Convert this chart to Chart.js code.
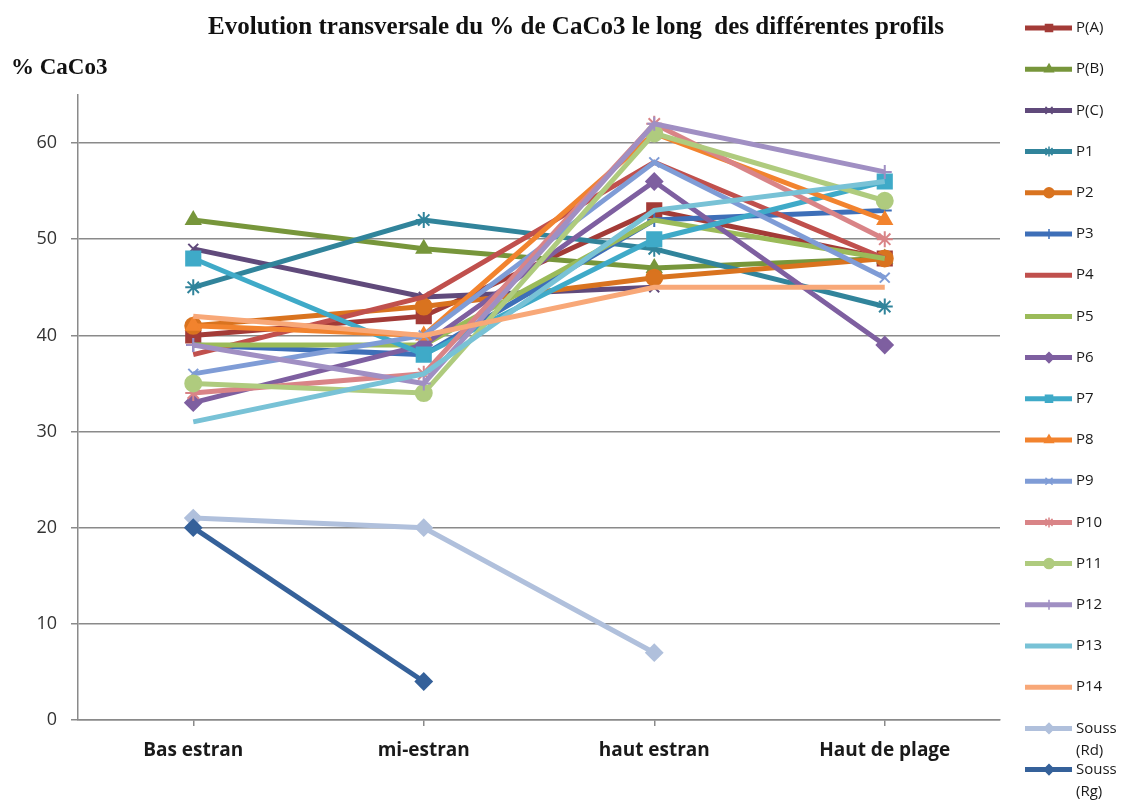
<!DOCTYPE html>
<html>
<head>
<meta charset="utf-8">
<title>Evolution transversale du % de CaCo3</title>
<script src="https://cdn.jsdelivr.net/npm/chart.js"></script>
<style>
    html, body { margin: 0; padding: 0; background: #fff; }
    #wrap { width: 1125px; height: 801px; position: relative; }
</style>
</head>
<body>
<div id="wrap"><canvas id="caco3Chart" width="1125" height="801"></canvas></div>
<script>
// Data
const categories = ['Bas estran', 'mi-estran', 'haut estran', 'Haut de plage'];
const yTicks = [0, 10, 20, 30, 40, 50, 60];

const pA = [40, 42, 53, 48];
const pB = [52, 49, 47, 48];
const pC = [49, 44, 45, null];
const p1 = [45, 52, 49, 43];
const p2 = [41, 43, 46, 48];
const p3 = [39, 38, 52, 53];
const p4 = [38, 44, 58, 48];
const p5 = [39, 39, 52, 48];
const p6 = [33, 39, 56, 39];
const p7 = [48, 38, 50, 56];
const p8 = [41, 40, 61, 52];
const p9 = [36, 40, 58, 46];
const p10 = [34, 36, 62, 50];
const p11 = [35, 34, 61, 54];
const p12 = [39, 35, 62, 57];
const p13 = [31, 36, 53, 56];
const p14 = [42, 40, 45, 45];
const soussRd = [21, 20, 7, null];
const soussRg = [20, 4, null, null];

const seriesNames = ['P(A)', 'P(B)', 'P(C)', 'P1', 'P2', 'P3', 'P4', 'P5', 'P6', 'P7',
    'P8', 'P9', 'P10', 'P11', 'P12', 'P13', 'P14', 'Souss (Rd)', 'Souss (Rg)'];
const seriesValues = [pA, pB, pC, p1, p2, p3, p4, p5, p6, p7,
    p8, p9, p10, p11, p12, p13, p14, soussRd, soussRg];

// Styling
const seriesColors = ['#A33B37', '#77963B', '#604A7B', '#31849B', '#D9731F', '#3E6FB8',
    '#C0504D', '#9BBB59', '#7E5FA0', '#3FAAC8', '#F2832E', '#7F9CD6', '#D98487',
    '#AFCB7E', '#A08FC3', '#78C2D6', '#F8A878', '#B0C0DC', '#35619A'];
const seriesMarkers = ['rect', 'triangle', 'crossRot', 'star', 'circle', 'cross', null, null,
    'rectRot', 'rect', 'triangle', 'crossRot', 'star', 'circle', 'cross', null, null,
    'rectRot', 'rectRot'];
const markerSize = { rect: 10, triangle: 8, crossRot: 7, star: 8, circle: 8, cross: 7, rectRot: 8 };

const datasets = seriesNames.map((name, i) => {
    const m = seriesMarkers[i];
    const c = seriesColors[i];
    return {
        label: name,
        data: seriesValues[i],
        borderColor: c,
        backgroundColor: c,
        pointBackgroundColor: c,
        pointBorderColor: c,
        borderWidth: 5,
        pointStyle: m || 'circle',
        pointRadius: m ? markerSize[m] : 0,
        pointBorderWidth: 2,
        tension: 0,
        order: -i
    };
});

// Title, axis title and Excel-like legend drawn on the canvas
const decorations = {
    id: 'decorations',
    afterDraw(chart) {
        const ctx = chart.ctx;
        ctx.save();
        ctx.fillStyle = '#111';
        ctx.textBaseline = 'middle';

        ctx.font = 'bold 25px "Liberation Serif", "Times New Roman", serif';
        ctx.textAlign = 'center';
        ctx.fillText('Evolution transversale du % de CaCo3 le long  des différentes profils', 576, 28);

        ctx.font = 'bold 23px "Liberation Serif", "Times New Roman", serif';
        ctx.textAlign = 'left';
        ctx.fillText('% CaCo3', 11, 68);

        ctx.font = '15px "Open Sans", sans-serif';
        seriesNames.forEach((name, i) => {
            const y = 28 + i * 41.2;
            const c = seriesColors[i];
            ctx.strokeStyle = c;
            ctx.lineWidth = 5;
            ctx.beginPath();
            ctx.moveTo(1025, y);
            ctx.lineTo(1072, y);
            ctx.stroke();
            const m = seriesMarkers[i];
            if (m && Chart.helpers && Chart.helpers.drawPoint) {
                ctx.fillStyle = c;
                ctx.lineWidth = 1.5;
                Chart.helpers.drawPoint(ctx, { pointStyle: m, radius: 5, rotation: 0, borderWidth: 1.5 }, 1049, y);
            }
            ctx.fillStyle = '#1a1a1a';
            const parts = name.split(' ');
            parts.forEach((t, k) => ctx.fillText(t, 1076, y + k * 22));
        });
        ctx.restore();
    }
};

new Chart(document.getElementById('caco3Chart'), {
    type: 'line',
    data: { labels: categories, datasets: datasets },
    options: {
        responsive: false,
        animation: false,
        layout: { padding: { top: 95, right: 125, left: 0, bottom: 0 } },
        plugins: {
            legend: { display: false },
            tooltip: { enabled: false },
            title: { display: false }
        },
        scales: {
            x: {
                offset: true,
                grid: { display: true, drawOnChartArea: false, tickLength: 6, color: '#8a8a8a', lineWidth: 1.5 },
                border: { display: true, color: '#8a8a8a', width: 1.5 },
                ticks: { color: '#1a1a1a', padding: 13, font: { family: 'Open Sans', size: 19, weight: 'bold' } },
                afterFit: s => { s.height = 81; }
            },
            y: {
                min: 0,
                max: 65,
                ticks: { stepSize: 10, color: '#333', padding: 14, font: { family: 'Open Sans', size: 18 } },
                afterBuildTicks: axis => { axis.ticks = yTicks.map(v => ({ value: v })); },
                grid: { color: '#8a8a8a', lineWidth: 1.5, tickLength: 7 },
                border: { display: true, color: '#8a8a8a', width: 1.5 },
                afterFit: s => { s.width = 78; }
            }
        }
    },
    plugins: [decorations]
});
</script>
</body>
</html>
